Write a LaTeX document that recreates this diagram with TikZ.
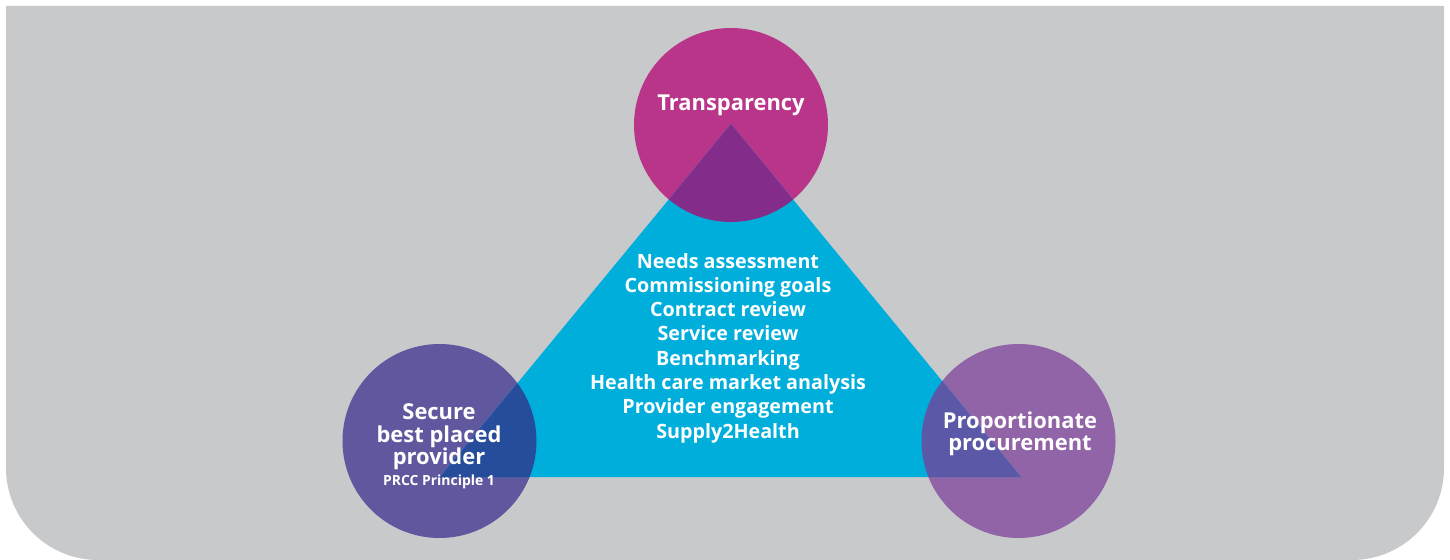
\documentclass[tikz,border=0pt]{standalone}
\usepackage{fontspec}
\setmainfont{Open Sans}[BoldFont={Open Sans Bold}]
\definecolor{bggray}{HTML}{C8C9CB}
\definecolor{cmag}{HTML}{B8358A}
\definecolor{cmagov}{HTML}{842C8A}
\definecolor{ccyan}{HTML}{00AEDB}
\definecolor{cleft}{HTML}{5F589E}
\definecolor{cleftov}{HTML}{264C9C}
\definecolor{cright}{HTML}{9163A7}
\definecolor{crightov}{HTML}{5A58A7}
\begin{document}
\begin{tikzpicture}[x=1bp,y=-1bp,
  disc/.style={circle,inner sep=0pt,minimum size=194bp},
  title/.style={text=white,font=\bfseries\fontsize{22}{22.5}\selectfont,align=center,inner sep=0pt},
  listtext/.style={text=white,font=\bfseries\fontsize{19.8}{24.4}\selectfont,align=center,inner sep=0pt}]
\useasboundingbox (0,0) rectangle (1450,560);
% background
\fill[bggray] (6,6) -- (1444,6) -- (1444,468) .. controls (1444,518.8) and (1402.8,560) .. (1352,560)
  -- (98,560) .. controls (47.2,560) and (6,518.8) .. (6,468) -- cycle;
% circles
\node[disc,fill=cmag] (T) at (731,125) {};
\node[disc,fill=cleft] (L) at (439.5,441) {};
\node[disc,fill=cright] (R) at (1018.5,441) {};
% triangle
\coordinate (apex) at (731,124);
\coordinate (bl) at (440,477);
\coordinate (br) at (1021,477);
\fill[ccyan] (apex) -- (bl) -- (br) -- cycle;
% overlaps
\begin{scope}
  \clip (T.center) circle[radius=97];
  \fill[cmagov] (apex) -- (bl) -- (br) -- cycle;
\end{scope}
\begin{scope}
  \clip (L.center) circle[radius=97];
  \fill[cleftov] (apex) -- (bl) -- (br) -- cycle;
\end{scope}
\begin{scope}
  \clip (R.center) circle[radius=97];
  \fill[crightov] (apex) -- (bl) -- (br) -- cycle;
\end{scope}
% texts
\node[title] (tT) at (731,105) {Transparency};
\node[title] (tL) at (439,437) {Secure\\best placed\\provider};
\node[text=white,font=\bfseries\fontsize{14}{16}\selectfont,inner sep=0pt] (tL2) at (439,482) {PRCC Principle 1};
\node[title] (tR) at (1020,434) {Proportionate\\procurement};
\node[listtext] (list) at (728,348) {Needs assessment\\Commissioning goals\\Contract review\\Service review\\Benchmarking\\Health care market analysis\\Provider engagement\\Supply2Health};
\end{tikzpicture}
\end{document}
